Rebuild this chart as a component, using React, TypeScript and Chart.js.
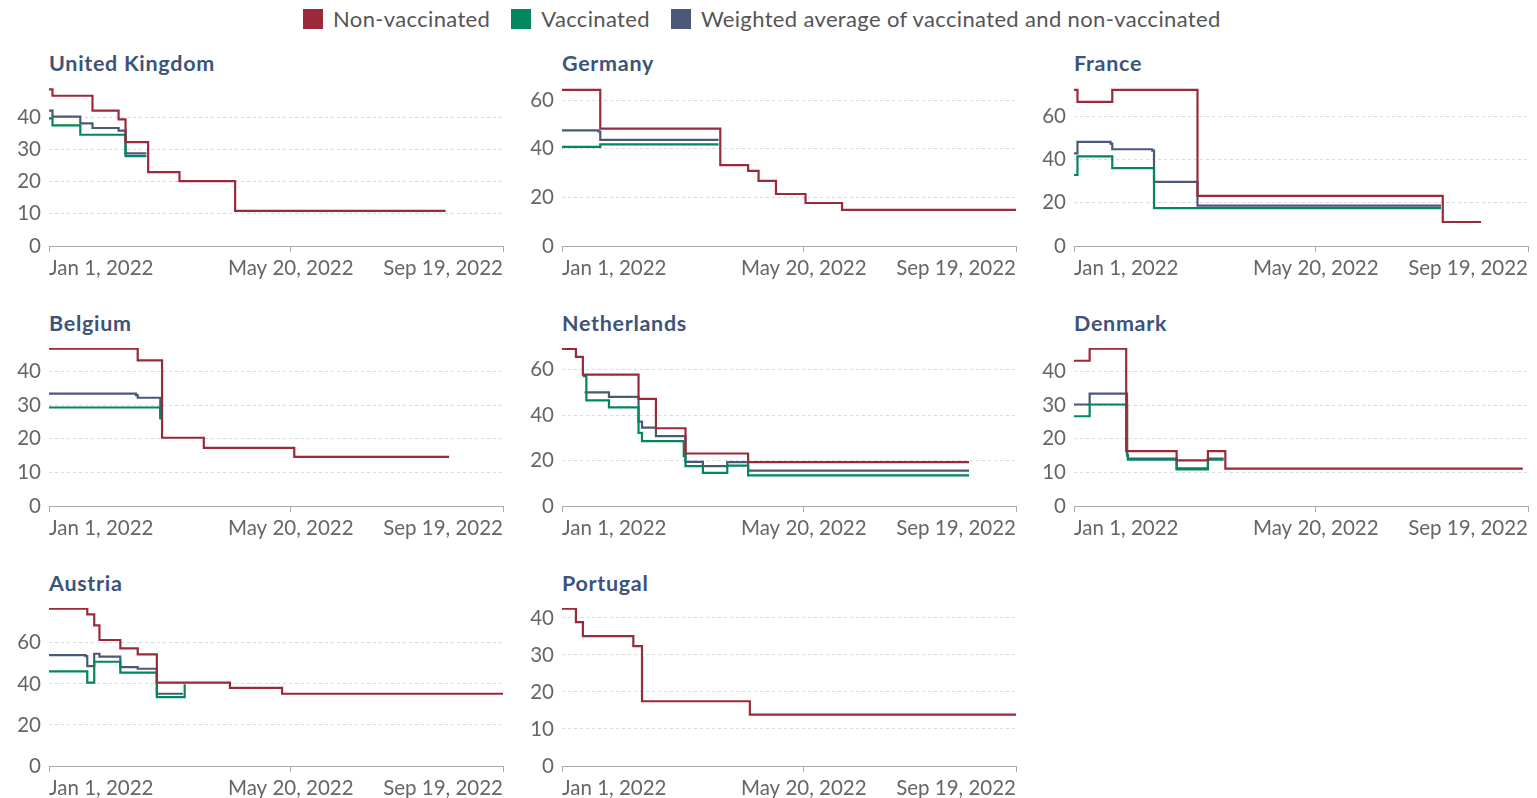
import React, { useEffect, useRef } from 'react';
import { Chart, registerables } from 'chart.js';
Chart.register(...registerables);

// x values are days since Jan 1, 2022
const tickDays = [0, 139, 261];
const tickLabels = ['Jan 1, 2022', 'May 20, 2022', 'Sep 19, 2022'];
const seriesNames = ['Non-vaccinated', 'Vaccinated', 'Weighted average of vaccinated and non-vaccinated'];
const seriesColors = ['#9a2a3a', '#00875e', '#4b5878'];

// United Kingdom
const ukNon = [[0, 48.6], [2, 46.6], [25, 42.0], [40, 39.3], [44, 32.2], [57, 22.9], [75, 20.1], [107, 10.9], [228, 10.9]];
const ukVac = [[0, 39.6], [2, 37.4], [18, 34.5], [44, 27.9], [56, 27.9]];
const ukAvg = [[0, 42.0], [2, 40.1], [18, 38.0], [25, 36.6], [40, 35.8], [44, 28.7], [56, 28.7]];
// Germany
const deNon = [[0, 64.2], [22, 48.3], [91, 33.3], [107, 30.9], [113, 26.8], [123, 21.4], [140, 17.7], [161, 14.9], [261, 14.9]];
const deVac = [[0, 40.8], [22, 41.8], [90, 41.8]];
const deAvg = [[0, 47.6], [21, 47.1], [22, 43.7], [90, 43.7]];
// France
const frNon = [[0, 72.1], [2, 66.6], [22, 72.1], [71, 23.2], [212, 11.1], [234, 11.1]];
const frVac = [[0, 32.8], [2, 41.4], [22, 36.0], [46, 17.5], [211, 17.5]];
const frAvg = [[0, 42.8], [2, 48.1], [21, 47.3], [22, 44.7], [45, 44.1], [46, 29.6], [71, 18.7], [211, 18.7]];
// Belgium
const beNon = [[0, 46.8], [51, 43.3], [65, 20.3], [89, 17.3], [141, 14.6], [230, 14.6]];
const beVac = [[0, 29.3], [63, 29.3], [64, 26.2]];
const beAvg = [[0, 33.4], [50, 33.0], [51, 32.2], [63, 32.2], [64, 25.7]];
// Netherlands
const nlNon = [[0, 69.1], [8, 65.6], [12, 57.8], [44, 47.1], [54, 34.2], [71, 23.1], [107, 19.3], [234, 19.3]];
const nlVac = [[12, 57.1], [14, 46.5], [27, 43.4], [44, 32.2], [46, 28.5], [70, 21.9], [71, 17.5], [81, 14.6], [95, 17.8], [107, 13.5], [234, 13.5]];
const nlAvg = [[13, 50.0], [27, 48.0], [44, 37.1], [46, 34.5], [54, 30.7], [71, 19.4], [81, 17.5], [95, 19.3], [107, 15.6], [234, 15.6]];
// Denmark
const dkNon = [[0, 43.2], [9, 46.8], [30, 16.3], [59, 13.6], [77, 16.3], [87, 11.1], [258, 11.1]];
const dkVac = [[0, 26.7], [9, 30.2], [30, 30.2], [30.5, 15.0], [31, 13.8], [59, 10.9], [77, 13.8], [86, 13.8]];
const dkAvg = [[0, 30.2], [9, 33.4], [30, 33.4], [30.5, 15.2], [31, 14.1], [59, 11.2], [77, 14.1], [86, 14.1]];
// Austria
const atNon = [[0, 76.7], [22, 73.9], [26, 68.5], [29, 61.4], [41, 57.3], [51, 54.4], [62, 40.6], [104, 38.1], [134, 35.2], [261, 35.2]];
const atVac = [[0, 46.1], [22, 40.6], [26, 50.8], [41, 45.5], [62, 33.6], [78, 39.8]];
const atAvg = [[0, 54.0], [21, 53.5], [22, 48.7], [26, 54.7], [29, 53.3], [41, 48.2], [51, 47.4], [62, 35.2], [77, 35.2]];
// Portugal
const ptNon = [[0, 42.5], [8, 38.9], [12, 35.1], [41, 32.4], [46, 17.5], [108, 13.9], [261, 13.9]];

const countryNames = ['United Kingdom', 'Germany', 'France', 'Belgium', 'Netherlands', 'Denmark', 'Austria', 'Portugal'];
const countryMax = [49, 65, 73, 47, 69.5, 47, 77, 42.7];
const countryStep = [10, 20, 20, 10, 20, 10, 20, 10];
const countrySeries = [
  [ukNon, ukVac, ukAvg],
  [deNon, deVac, deAvg],
  [frNon, frVac, frAvg],
  [beNon, beVac, beAvg],
  [nlNon, nlVac, nlAvg],
  [dkNon, dkVac, dkAvg],
  [atNon, atVac, atAvg],
  [ptNon, [], []],
];

const FONT = 'Lato, "Noto Sans", sans-serif';
const CANVAS_W = 511;
const CANVAS_H = 200;

function Panel({ idx }: { idx: number }) {
  const ref = useRef<HTMLCanvasElement>(null);
  useEffect(() => {
    const max = countryMax[idx];
    const step = countryStep[idx];
    const yTicks: number[] = [];
    for (let v = 0; v <= max; v += step) yTicks.push(v);
    const datasets = countrySeries[idx].map((pts, si) => ({
      label: seriesNames[si],
      data: pts.map(([x, y]) => ({ x, y })),
      borderColor: seriesColors[si],
      backgroundColor: seriesColors[si],
      borderWidth: 2.2,
      pointRadius: 0,
      stepped: true as const,
      fill: false,
    }));
    const chart = new Chart(ref.current!, {
      type: 'line',
      data: { datasets },
      options: {
        animation: false,
        responsive: false,
        devicePixelRatio: 1,
        layout: { padding: { top: 8, right: 8, left: 0, bottom: 0 } },
        plugins: { legend: { display: false }, tooltip: { enabled: false } },
        scales: {
          x: {
            type: 'linear',
            min: 0,
            max: 261,
            afterBuildTicks: (s: any) => { s.ticks = tickDays.map((v) => ({ value: v })); },
            afterFit: (s: any) => { s.height = 34; },
            ticks: {
              autoSkip: false,
              maxRotation: 0,
              align: 'inner',
              padding: 4,
              color: '#666',
              font: { family: FONT, size: 20.5 },
              callback: (v: any) => tickLabels[tickDays.indexOf(Number(v))] ?? '',
            },
            grid: { drawOnChartArea: false, drawTicks: true, tickLength: 6, color: '#aaa' },
            border: { display: true, color: '#aaa', width: 1 },
          },
          y: {
            type: 'linear',
            min: 0,
            max,
            afterBuildTicks: (s: any) => { s.ticks = yTicks.map((v) => ({ value: v })); },
            afterFit: (s: any) => { s.width = 49; s.paddingTop = 0; s.paddingBottom = 0; },
            ticks: {
              padding: 8,
              color: '#666',
              font: { family: FONT, size: 20.5 },
            },
            grid: {
              drawTicks: false,
              color: (c: any) => (c.tick && c.tick.value === 0 ? 'rgba(0,0,0,0)' : '#d9d9d9'),
              lineWidth: 1,
            },
            border: { display: false, dash: [3, 3] },
          },
        },
      },
    } as any);
    return () => chart.destroy();
  }, [idx]);
  return <canvas ref={ref} width={CANVAS_W} height={CANVAS_H} style={{ width: CANVAS_W, height: CANVAS_H, display: 'block' }} />;
}

const colCanvasLeft = [0, 513, 1025];
const rowCanvasTop = [80, 340, 600];
const colChartLeft = [49, 562, 1074];
const rowTitleTop = [50, 310, 570];

export default function App() {
  return (
    <div style={{ position: 'absolute', left: 0, top: 0, width: 1537, height: 798, background: '#fff', fontFamily: FONT, overflow: 'hidden' }}>
      <div style={{ position: 'absolute', left: 303, top: 9, display: 'flex', alignItems: 'center', whiteSpace: 'nowrap' }}>
        {seriesNames.map((n, i) => (
          <div key={n} style={{ display: 'flex', alignItems: 'center', marginRight: 21 }}>
            <div style={{ width: 20, height: 20, background: seriesColors[i], marginRight: 10 }} />
            <span style={{ fontSize: 22, letterSpacing: 0.35, color: '#555', lineHeight: '20px' }}>{n}</span>
          </div>
        ))}
      </div>
      {countryNames.map((name, i) => {
        const col = i % 3;
        const row = Math.floor(i / 3);
        return (
          <React.Fragment key={name}>
            <div style={{ position: 'absolute', left: colChartLeft[col], top: rowTitleTop[row], fontSize: 21.5, letterSpacing: 0.7, fontWeight: 700, color: '#3c5479', lineHeight: '26px', whiteSpace: 'nowrap' }}>
              {name}
            </div>
            <div style={{ position: 'absolute', left: colCanvasLeft[col], top: rowCanvasTop[row] }}>
              <Panel idx={i} />
            </div>
          </React.Fragment>
        );
      })}
    </div>
  );
}
